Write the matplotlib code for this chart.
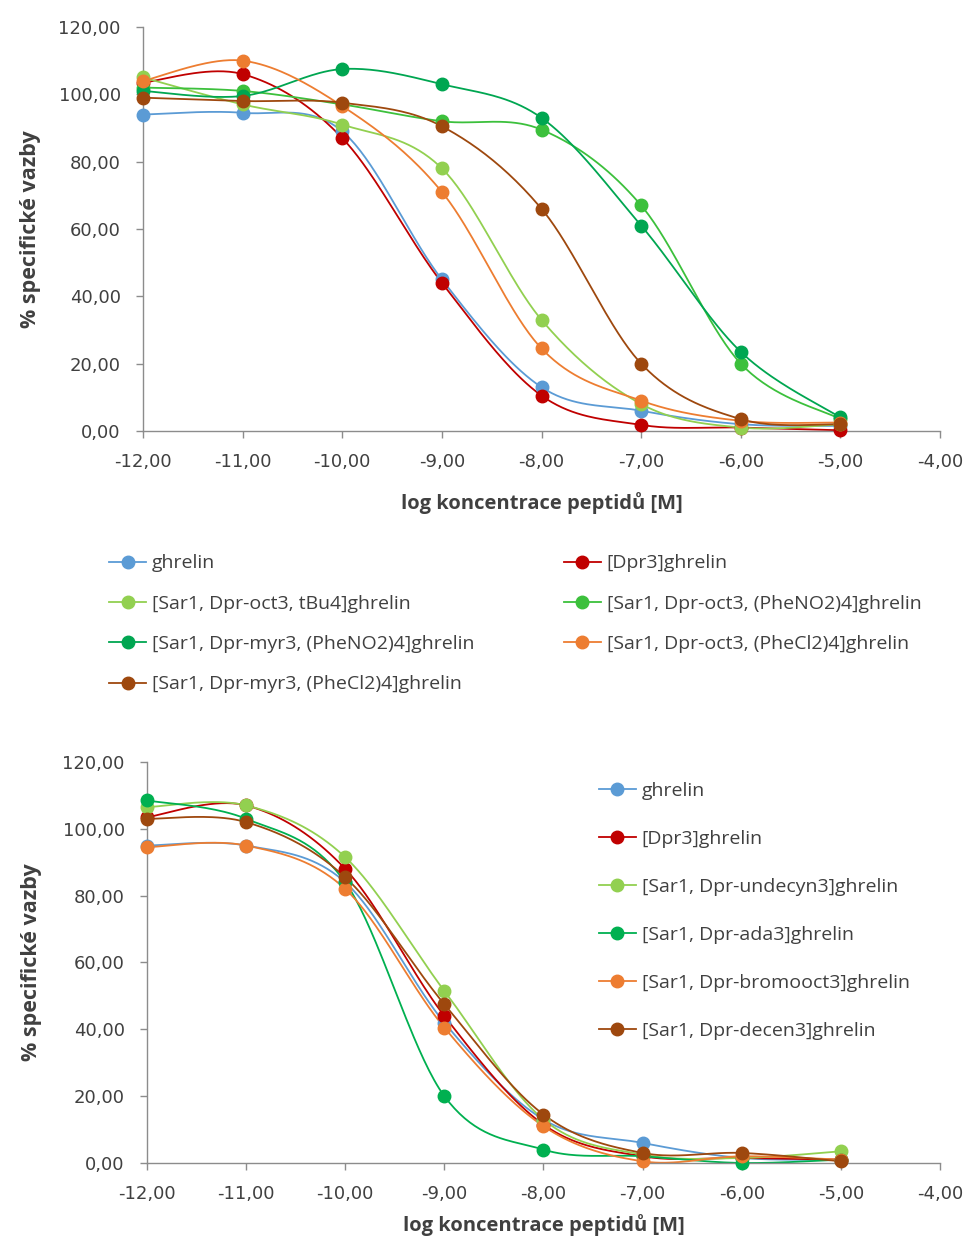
import numpy as np
import matplotlib
matplotlib.use("Agg")
import matplotlib.pyplot as plt
from matplotlib.lines import Line2D
from matplotlib.ticker import FuncFormatter, MultipleLocator

# log koncentrace [M]
log_conc = [-12, -11, -10, -9, -8, -7, -6, -5]

# horní graf
top_names = [
    "ghrelin",
    "[Dpr3]ghrelin",
    "[Sar1, Dpr-oct3, tBu4]ghrelin",
    "[Sar1, Dpr-oct3, (PheNO2)4]ghrelin",
    "[Sar1, Dpr-myr3, (PheNO2)4]ghrelin",
    "[Sar1, Dpr-oct3, (PheCl2)4]ghrelin",
    "[Sar1, Dpr-myr3, (PheCl2)4]ghrelin",
]
top_ghrelin = [94, 94.5, 89, 45, 13, 6, 2, 1.5]
top_dpr3 = [103.5, 106, 87, 44, 10.5, 1.8, 1, 0.2]
top_oct3_tbu4 = [105, 97, 91, 78, 33, 8, 1, 2]
top_oct3_pheno2 = [102, 101, 97, 92, 89.5, 67, 20, 3.5]
top_myr3_pheno2 = [101, 99.5, 107.5, 103, 93, 61, 23.5, 4]
top_oct3_phecl2 = [104, 110, 96.5, 71, 24.5, 9, 3, 2.5]
top_myr3_phecl2 = [99, 98, 97.5, 90.5, 66, 20, 3.5, 2]
top_values = [top_ghrelin, top_dpr3, top_oct3_tbu4, top_oct3_pheno2,
              top_myr3_pheno2, top_oct3_phecl2, top_myr3_phecl2]
top_colors = ["#5B9BD5", "#C00000", "#92D050", "#3CC03C",
              "#00A651", "#ED7D31", "#9E480E"]

# dolní graf
bottom_names = [
    "ghrelin",
    "[Dpr3]ghrelin",
    "[Sar1, Dpr-undecyn3]ghrelin",
    "[Sar1, Dpr-ada3]ghrelin",
    "[Sar1, Dpr-bromooct3]ghrelin",
    "[Sar1, Dpr-decen3]ghrelin",
]
bot_ghrelin = [95, 95, 84, 42, 13, 6, 1.5, 1]
bot_dpr3 = [103.5, 107, 88, 44, 11.5, 2, 1.5, 1]
bot_undecyn3 = [106.5, 107, 91.5, 51.5, 13, 2.5, 1.5, 3.5]
bot_ada3 = [108.5, 103, 84, 20, 4, 2, 0, 1]
bot_bromooct3 = [94.5, 95, 82, 40.5, 11, 0.5, 2, 1]
bot_decen3 = [103, 102, 85.5, 47.5, 14.5, 3, 3, 0.5]
bottom_values = [bot_ghrelin, bot_dpr3, bot_undecyn3, bot_ada3,
                 bot_bromooct3, bot_decen3]
bottom_colors = ["#5B9BD5", "#C00000", "#92D050", "#00B050",
                 "#ED7D31", "#9E480E"]

AXIS_GRAY = "#8C8C8C"
TEXT = "#404040"
LABEL_FONT = "Open Sans"


def smooth(xs, ys, n=40):
    # Bezierova interpolace (Catmull-Rom) jako vyhlazená čára v Excelu
    pts = np.column_stack([xs, ys]).astype(float)
    p = np.vstack([pts[0], pts, pts[-1]])
    segs = []
    t = np.linspace(0, 1, n)[:, None]
    for i in range(1, len(p) - 2):
        p0, p1, p2, p3 = p[i - 1], p[i], p[i + 1], p[i + 2]
        c1 = p1 + (p2 - p0) / 6
        c2 = p2 - (p3 - p1) / 6
        segs.append((1 - t) ** 3 * p1 + 3 * (1 - t) ** 2 * t * c1
                    + 3 * (1 - t) * t ** 2 * c2 + t ** 3 * p2)
    s = np.vstack(segs)
    return s[:, 0], s[:, 1]


def comma(v, _):
    return f"{v:.2f}".replace(".", ",")


def setup_axes(ax):
    ax.set_xlim(-12, -4)
    ax.set_ylim(0, 120)
    ax.xaxis.set_major_locator(MultipleLocator(1))
    ax.yaxis.set_major_locator(MultipleLocator(20))
    ax.xaxis.set_major_formatter(FuncFormatter(comma))
    ax.yaxis.set_major_formatter(FuncFormatter(comma))
    for s in ["top", "right"]:
        ax.spines[s].set_visible(False)
    for s in ["left", "bottom"]:
        ax.spines[s].set_color(AXIS_GRAY)
        ax.spines[s].set_linewidth(1.0)
    ax.tick_params(axis="both", colors=AXIS_GRAY, labelcolor=TEXT,
                   labelsize=13, length=5, width=1.0, direction="out")
    ax.tick_params(axis="y", pad=11)
    ax.tick_params(axis="x", pad=11)
    ax.set_ylabel("% specifické vazby", fontsize=15.5, fontweight="bold",
                  color=TEXT, family=LABEL_FONT)


def draw_series(ax, values, colors):
    handles = []
    for vals, col in zip(values, colors):
        sx, sy = smooth(log_conc, vals)
        ax.plot(sx, sy, color=col, lw=1.3, clip_on=False, zorder=2)
        ax.plot(log_conc, vals, "o", color=col, ms=9, mec=col,
                clip_on=False, zorder=3)
        handles.append(Line2D([], [], color=col, lw=1.3, marker="o",
                              ms=9, mec=col))
    return handles


fig = plt.figure(figsize=(9.65, 12.38), dpi=100)
plt.rcParams["font.family"] = ["DejaVu Sans"]

# horní graf
ax1 = fig.add_axes([0.1482, 0.6519, 0.8259, 0.3263])
setup_axes(ax1)
h1 = draw_series(ax1, top_values, top_colors)
ax1.set_xlabel("log koncentrace peptidů [M]", fontsize=14.5,
               fontweight="bold", color=TEXT, family=LABEL_FONT, labelpad=15)
ax1.yaxis.set_label_coords(-0.128, 0.5)

order = [0, 2, 4, 6, 1, 3, 5]
fig.legend([h1[i] for i in order], [top_names[i] for i in order],
           loc="upper left", bbox_to_anchor=(0.105, 0.5585), ncol=2,
           frameon=False, prop={"family": LABEL_FONT, "size": 14},
           labelcolor=TEXT, handlelength=1.9, handletextpad=0.3,
           labelspacing=1.15, columnspacing=4.6, borderaxespad=0)

# dolní graf
ax2 = fig.add_axes([0.1523, 0.0606, 0.8218, 0.3239])
setup_axes(ax2)
h2 = draw_series(ax2, bottom_values, bottom_colors)
ax2.set_xlabel("log koncentrace peptidů [M]", fontsize=14.5,
               fontweight="bold", color=TEXT, family=LABEL_FONT, labelpad=8)
ax2.yaxis.set_label_coords(-0.132, 0.5)

ax2.legend(h2, bottom_names, loc="upper left",
           bbox_to_anchor=(0.56, 0.9705), frameon=False,
           prop={"family": LABEL_FONT, "size": 14}, labelcolor=TEXT,
           handlelength=1.9, handletextpad=0.3, labelspacing=1.55,
           borderaxespad=0)

fig.savefig("out.png", dpi=100, facecolor="white")
